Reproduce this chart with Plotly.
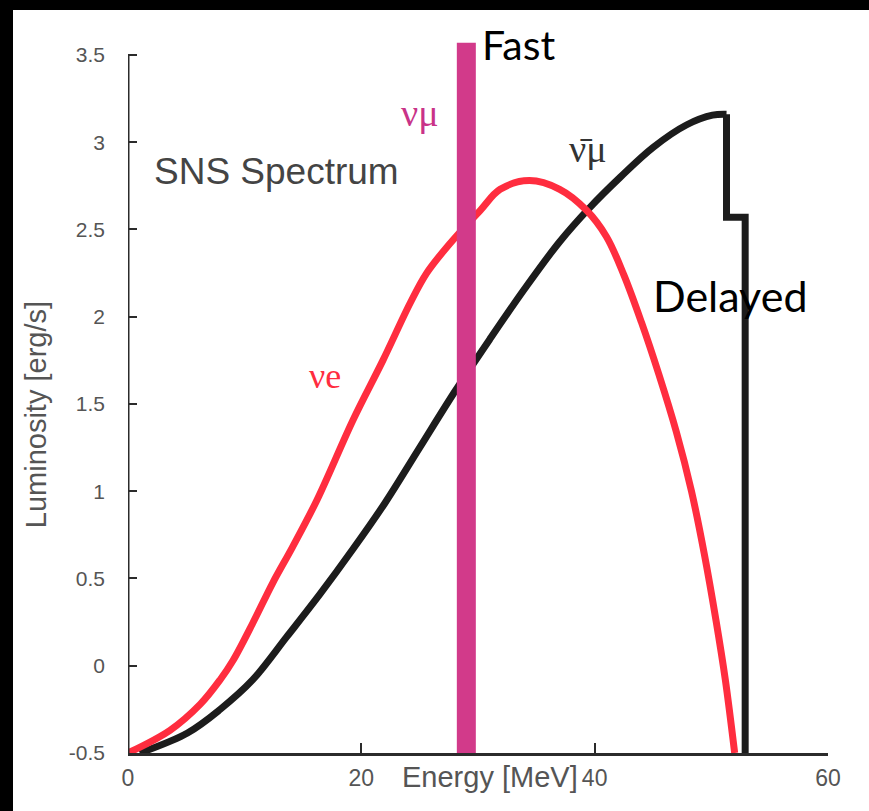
import plotly.graph_objects as go

# Electron-neutrino spectrum (red)
nue_energy = [0.0, 3.6, 6.2, 7.9, 9.0, 10.7, 12.4, 14.1, 16.2, 19.3, 21.85, 24.2, 25.6,
              27.6, 30.2, 31.9, 34.4, 37.0, 39.3, 41.0, 42.5, 44.0, 45.5, 47.0, 48.3, 49.4,
              50.4, 51.2, 52.0]
nue_lum = [-0.5, -0.37, -0.22, -0.08, 0.03, 0.245, 0.474, 0.68, 0.95, 1.41, 1.75, 2.08,
           2.25, 2.42, 2.61, 2.73, 2.78, 2.73, 2.61, 2.46, 2.24, 1.97, 1.67, 1.34, 1.00, 0.64,
           0.26, -0.08, -0.5]

# Muon antineutrino spectrum (black): smooth rise, then the step edge at the end
numubar_energy = [1.0, 5.1, 7.9, 10.7, 13.6, 16.45, 19.3, 22.0, 25.0, 28.0, 31.0, 34.0, 37.0,
                  39.5, 42.2, 45.0, 47.9, 50.1, 51.3]
numubar_lum = [-0.5, -0.385, -0.25, -0.08, 0.165, 0.41, 0.67, 0.93, 1.25, 1.57, 1.87, 2.16,
               2.43, 2.62, 2.80, 2.97, 3.10, 3.155, 3.16]
edge_energy = [51.3, 51.3, 52.9, 52.9]
edge_lum = [3.16, 2.57, 2.57, -0.5]

# Prompt muon-neutrino line
numu_energy = [29.0, 29.0]
numu_lum = [-0.5, 3.57]

x_ticks = [0, 20, 40, 60]
y_ticks = [-0.5, 0, 0.5, 1, 1.5, 2, 2.5, 3, 3.5]
y_tick_text = ["-0.5", "0", "0.5", "1", "1.5", "2", "2.5", "3", "3.5"]

AXIS_GRAY = "#555555"
LINE_DARK = "#2b2b2b"
SANS = "Liberation Sans, Arial, sans-serif"
SERIF = "Liberation Serif, DejaVu Serif, serif"
HUMANIST = "Lato, Open Sans, sans-serif"

fig = go.Figure()

fig.add_trace(go.Scatter(x=numubar_energy, y=numubar_lum, mode="lines",
                         line=dict(color="#1c1c1c", width=7, shape="spline", smoothing=1.0),
                         hoverinfo="skip"))
fig.add_trace(go.Scatter(x=edge_energy, y=edge_lum, mode="lines",
                         line=dict(color="#1c1c1c", width=7), hoverinfo="skip"))
fig.add_trace(go.Scatter(x=nue_energy, y=nue_lum, mode="lines",
                         line=dict(color="#ff2d3f", width=7, shape="spline", smoothing=1.0),
                         hoverinfo="skip"))
fig.add_trace(go.Scatter(x=numu_energy, y=numu_lum, mode="lines",
                         line=dict(color="#d23a8a", width=19), hoverinfo="skip"))

# y axis spine, drawn up to the top tick only
fig.add_shape(type="line", xref="x", yref="y", x0=0, x1=0, y0=-0.5, y1=3.5,
              line=dict(color=LINE_DARK, width=3), layer="above")

annotations = [
    dict(x=12.7, y=2.83, text="SNS Spectrum", font=dict(family=SANS, size=37, color="#444444")),
    dict(x=25.0, y=3.17, text="νμ", font=dict(family=SERIF, size=38, color="#c93388")),
    dict(x=39.4, y=2.96, text="ν\u0304μ", font=dict(family=SERIF, size=38, color="#333333")),
    dict(x=16.9, y=1.66, text="νe", font=dict(family=SERIF, size=36, color="#ff2d3f")),
    dict(x=30.2, y=3.56, text="Fast", xanchor="left",
         font=dict(family=HUMANIST, size=41, color="#000000")),
    dict(x=44.8, y=2.12, text="Delayed", xanchor="left",
         font=dict(family=HUMANIST, size=43, color="#000000")),
    dict(x=31.0, xref="x", y=-0.034, yref="paper", text="Energy [MeV]", yanchor="middle",
         font=dict(family=SANS, size=29, color=AXIS_GRAY)),
    dict(x=-0.158, xref="paper", y=0.475, yref="paper", text="Luminosity [erg/s]",
         textangle=-90, font=dict(family=SANS, size=29, color=AXIS_GRAY)),
]
for a in annotations:
    a.setdefault("xref", "x")
    a.setdefault("yref", "y")
    a["showarrow"] = False

# dark scan border along the top and left edges
L_M, R_M, T_M, B_M = 128, 41, 41, 58
pw, ph = 869 - L_M - R_M, 811 - T_M - B_M
shapes = [
    dict(type="rect", xref="paper", yref="paper", x0=-L_M / pw, x1=(869 - L_M) / pw,
         y0=(ph + T_M - 10) / ph, y1=(ph + T_M) / ph,
         fillcolor="#000000", line=dict(width=0), layer="above"),
    dict(type="rect", xref="paper", yref="paper", x0=-L_M / pw, x1=(13 - L_M) / pw,
         y0=-B_M / ph, y1=(ph + T_M) / ph,
         fillcolor="#000000", line=dict(width=0), layer="above"),
]

fig.update_layout(
    width=869, height=811,
    margin=dict(l=L_M, r=R_M, t=T_M, b=B_M),
    paper_bgcolor="#ffffff", plot_bgcolor="#ffffff",
    showlegend=False,
    annotations=annotations,
)
for s in shapes:
    fig.add_shape(**s)

fig.update_xaxes(range=[0, 60], tickvals=x_ticks, ticks="inside", ticklen=10, tickwidth=2,
                 tickcolor=LINE_DARK, showline=True, linecolor=LINE_DARK, linewidth=3,
                 showgrid=False, zeroline=False, ticklabelstandoff=2,
                 tickfont=dict(family=SANS, size=23, color=AXIS_GRAY))
fig.update_yaxes(range=[-0.5, 3.58], tickvals=y_ticks, ticktext=y_tick_text, ticks="inside",
                 ticklen=9, tickwidth=2, tickcolor=LINE_DARK, showline=False,
                 showgrid=False, zeroline=False, ticklabelstandoff=22,
                 tickfont=dict(family=SANS, size=21, color=AXIS_GRAY))

page_fix = ("document.documentElement.style.overflow='hidden';"
            "document.body.style.overflow='hidden';"
            "document.body.style.margin='0';"
            "document.body.style.background='#ffffff';")

fig.write_html("out.html", post_script=page_fix, config={"displayModeBar": False})
